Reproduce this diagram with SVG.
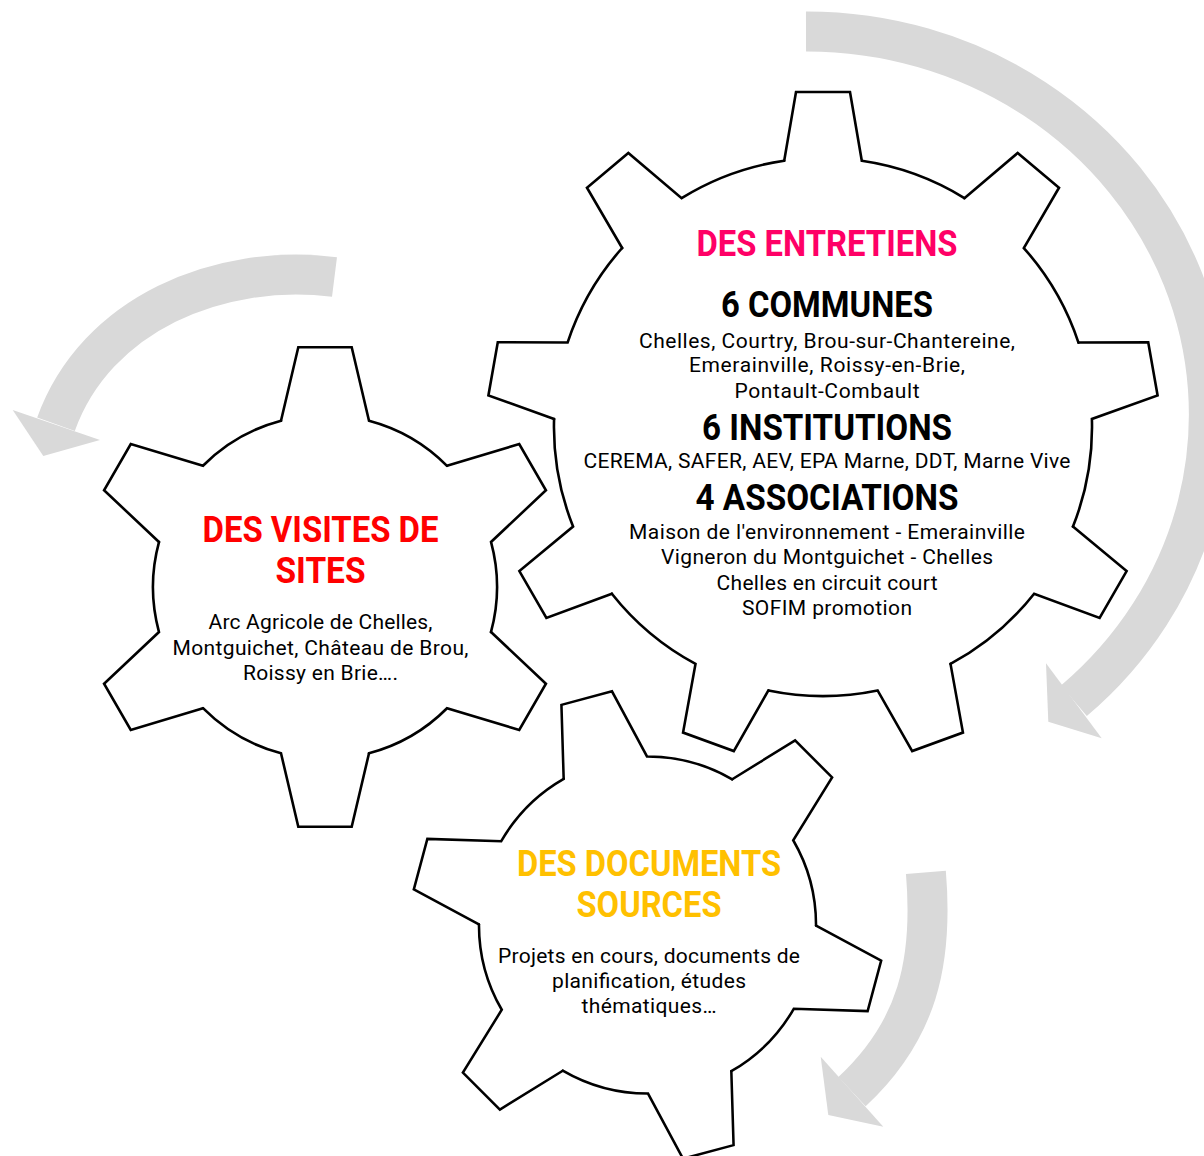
<svg xmlns="http://www.w3.org/2000/svg" xmlns:xlink="http://www.w3.org/1999/xlink" width="1204" height="1156" viewBox="0 0 1204 1156">
<style>
  .band{fill:none;stroke:#d9d9d9;stroke-width:40;stroke-linecap:butt}
  .head{fill:#d9d9d9;stroke:none}
  .gfill{fill:#ffffff;stroke:none}
  .gline{fill:none;stroke:#000000;stroke-width:2.6;stroke-linejoin:miter;stroke-linecap:round}
  text{font-family:Roboto,"Liberation Sans",sans-serif;text-anchor:middle}
  .title{font-size:36px;font-weight:700}
  .body{font-size:21px;font-weight:400;fill:#000000}
  .pink{fill:#ff0066}
  .red{fill:#ff0000}
  .gold{fill:#ffc000}
  .black{fill:#000000}
</style>
<defs>
  <path id="toothBig" d="M-38.8,-266.2 L-27,-335 L27,-335 L38.8,-266.2 A269,269 0 0 1 141.4,-228.9"/>
  <path id="toothSmall" d="M-44,-166.3 L-26.7,-239.7 L26.7,-239.7 L44,-166.3 A172,172 0 0 1 122,-121.2"/>
</defs>
<rect width="1204" height="1156" fill="#ffffff"/>

<g id="connectors">
  <g id="arrow-top">
    <path class="band" d="M806,31.5 A402,383 0 0 1 1073.9,700.8"/>
    <polygon class="head" points="1046,663.3 1048.3,721.7 1101.7,738.3"/>
  </g>
  <g id="arrow-left">
    <path class="band" d="M334.5,277 C218.4,262.5 95.8,314 56,424.2"/>
    <polygon class="head" points="12.7,410 43.3,456 100,440"/>
  </g>
  <g id="arrow-bottom">
    <path class="band" d="M925.9,872.4 C933.4,962.1 917.7,1030.5 852,1091.7"/>
    <polygon class="head" points="820.7,1056.7 828.3,1115 883.3,1126.7"/>
  </g>
</g>

<g id="gear-entretiens">
  <g transform="translate(823,427)">
    <circle class="gfill" r="269"/>
    <g class="gfill">
      <use xlink:href="#toothBig" href="#toothBig"/>
      <use xlink:href="#toothBig" href="#toothBig" transform="rotate(40)"/>
      <use xlink:href="#toothBig" href="#toothBig" transform="rotate(80)"/>
      <use xlink:href="#toothBig" href="#toothBig" transform="rotate(120)"/>
      <use xlink:href="#toothBig" href="#toothBig" transform="rotate(160)"/>
      <use xlink:href="#toothBig" href="#toothBig" transform="rotate(200)"/>
      <use xlink:href="#toothBig" href="#toothBig" transform="rotate(240)"/>
      <use xlink:href="#toothBig" href="#toothBig" transform="rotate(280)"/>
      <use xlink:href="#toothBig" href="#toothBig" transform="rotate(320)"/>
    </g>
    <g class="gline">
      <use xlink:href="#toothBig" href="#toothBig"/>
      <use xlink:href="#toothBig" href="#toothBig" transform="rotate(40)"/>
      <use xlink:href="#toothBig" href="#toothBig" transform="rotate(80)"/>
      <use xlink:href="#toothBig" href="#toothBig" transform="rotate(120)"/>
      <use xlink:href="#toothBig" href="#toothBig" transform="rotate(160)"/>
      <use xlink:href="#toothBig" href="#toothBig" transform="rotate(200)"/>
      <use xlink:href="#toothBig" href="#toothBig" transform="rotate(240)"/>
      <use xlink:href="#toothBig" href="#toothBig" transform="rotate(280)"/>
      <use xlink:href="#toothBig" href="#toothBig" transform="rotate(320)"/>
    </g>
  </g>
  <text class="title pink" x="827" y="255.5" textLength="261" lengthAdjust="spacingAndGlyphs">DES ENTRETIENS</text>
  <text class="title black" x="827" y="316.5" textLength="212" lengthAdjust="spacingAndGlyphs">6 COMMUNES</text>
  <text class="body" x="827" y="347.5" textLength="376" lengthAdjust="spacing">Chelles, Courtry, Brou-sur-Chantereine,</text>
  <text class="body" x="827" y="372" textLength="276" lengthAdjust="spacing">Emerainville, Roissy-en-Brie,</text>
  <text class="body" x="827" y="397.5" textLength="185" lengthAdjust="spacing">Pontault-Combault</text>
  <text class="title black" x="827" y="440" textLength="250" lengthAdjust="spacingAndGlyphs">6 INSTITUTIONS</text>
  <text class="body" x="827" y="468" textLength="487" lengthAdjust="spacing">CEREMA, SAFER, AEV, EPA Marne, DDT, Marne Vive</text>
  <text class="title black" x="827" y="509.5" textLength="263" lengthAdjust="spacingAndGlyphs">4 ASSOCIATIONS</text>
  <text class="body" x="827" y="539" textLength="396" lengthAdjust="spacing">Maison de l'environnement - Emerainville</text>
  <text class="body" x="827" y="564" textLength="332" lengthAdjust="spacing">Vigneron du Montguichet - Chelles</text>
  <text class="body" x="827" y="589.5" textLength="221" lengthAdjust="spacing">Chelles en circuit court</text>
  <text class="body" x="827" y="614.5" textLength="170" lengthAdjust="spacing">SOFIM promotion</text>
</g>

<g id="gear-visites">
  <g transform="translate(325,587)">
    <circle class="gfill" r="172"/>
    <g class="gfill">
      <use xlink:href="#toothSmall" href="#toothSmall"/>
      <use xlink:href="#toothSmall" href="#toothSmall" transform="rotate(60)"/>
      <use xlink:href="#toothSmall" href="#toothSmall" transform="rotate(120)"/>
      <use xlink:href="#toothSmall" href="#toothSmall" transform="rotate(180)"/>
      <use xlink:href="#toothSmall" href="#toothSmall" transform="rotate(240)"/>
      <use xlink:href="#toothSmall" href="#toothSmall" transform="rotate(300)"/>
    </g>
    <g class="gline">
      <use xlink:href="#toothSmall" href="#toothSmall"/>
      <use xlink:href="#toothSmall" href="#toothSmall" transform="rotate(60)"/>
      <use xlink:href="#toothSmall" href="#toothSmall" transform="rotate(120)"/>
      <use xlink:href="#toothSmall" href="#toothSmall" transform="rotate(180)"/>
      <use xlink:href="#toothSmall" href="#toothSmall" transform="rotate(240)"/>
      <use xlink:href="#toothSmall" href="#toothSmall" transform="rotate(300)"/>
    </g>
  </g>
  <text class="title red" x="320.5" y="542.3" textLength="236" lengthAdjust="spacingAndGlyphs">DES VISITES DE</text>
  <text class="title red" x="320.5" y="583.3" textLength="90" lengthAdjust="spacingAndGlyphs">SITES</text>
  <text class="body" x="320.5" y="629" textLength="224" lengthAdjust="spacing">Arc Agricole de Chelles,</text>
  <text class="body" x="320.5" y="654.5" textLength="296" lengthAdjust="spacing">Montguichet, Château de Brou,</text>
  <text class="body" x="320.5" y="680" textLength="155" lengthAdjust="spacing">Roissy en Brie….</text>
</g>

<g id="gear-documents">
  <g transform="translate(647.5,925) rotate(-15) scale(0.98)">
    <circle class="gfill" r="172"/>
    <g class="gfill">
      <use xlink:href="#toothSmall" href="#toothSmall"/>
      <use xlink:href="#toothSmall" href="#toothSmall" transform="rotate(60)"/>
      <use xlink:href="#toothSmall" href="#toothSmall" transform="rotate(120)"/>
      <use xlink:href="#toothSmall" href="#toothSmall" transform="rotate(180)"/>
      <use xlink:href="#toothSmall" href="#toothSmall" transform="rotate(240)"/>
      <use xlink:href="#toothSmall" href="#toothSmall" transform="rotate(300)"/>
    </g>
    <g class="gline">
      <use xlink:href="#toothSmall" href="#toothSmall"/>
      <use xlink:href="#toothSmall" href="#toothSmall" transform="rotate(60)"/>
      <use xlink:href="#toothSmall" href="#toothSmall" transform="rotate(120)"/>
      <use xlink:href="#toothSmall" href="#toothSmall" transform="rotate(180)"/>
      <use xlink:href="#toothSmall" href="#toothSmall" transform="rotate(240)"/>
      <use xlink:href="#toothSmall" href="#toothSmall" transform="rotate(300)"/>
    </g>
  </g>
  <text class="title gold" x="649" y="876" textLength="264" lengthAdjust="spacingAndGlyphs">DES DOCUMENTS</text>
  <text class="title gold" x="649" y="916.7" textLength="145" lengthAdjust="spacingAndGlyphs">SOURCES</text>
  <text class="body" x="649" y="962.7" textLength="302" lengthAdjust="spacing">Projets en cours, documents de</text>
  <text class="body" x="649" y="987.7" textLength="194" lengthAdjust="spacing">planification, études</text>
  <text class="body" x="649" y="1012.7" textLength="135" lengthAdjust="spacing">thématiques…</text>
</g>
</svg>
